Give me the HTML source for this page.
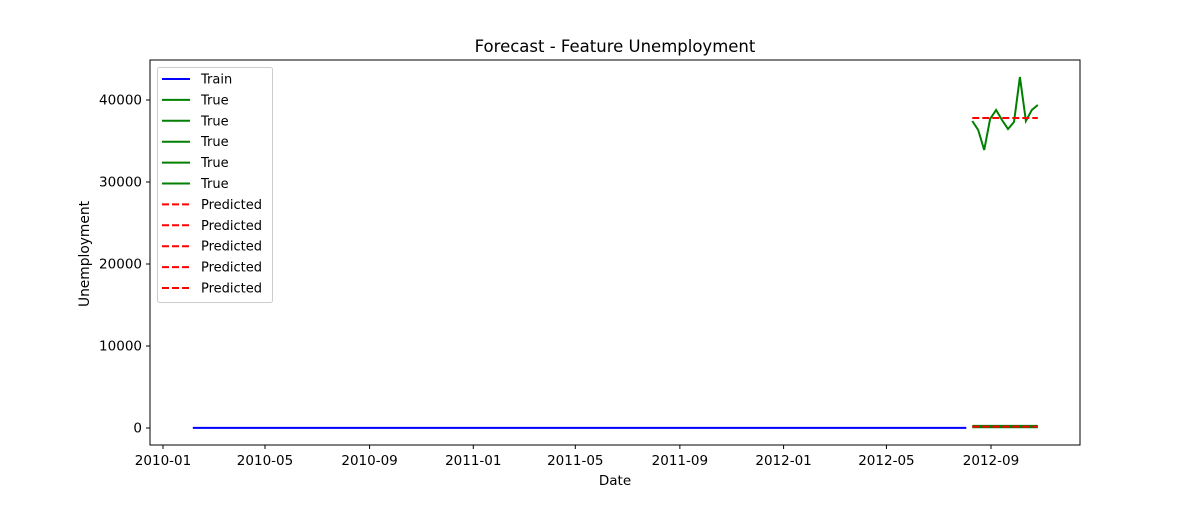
<!DOCTYPE html>
<html><head><meta charset="utf-8"><style>
body{margin:0;background:#fff;}
svg text{font-family:"DejaVu Sans","Liberation Sans",sans-serif;fill:#000;}
</style></head><body>
<svg id="chart" width="1200" height="500" xmlns="http://www.w3.org/2000/svg">
<rect width="1200" height="500" fill="#fff"/>
<g id="plot"></g>
<text x="615" y="52" font-size="16.5" text-anchor="middle">Forecast - Feature Unemployment</text>
<text x="615" y="485" font-size="13.5" text-anchor="middle">Date</text>
<text transform="translate(89,254) rotate(-90)" font-size="13.8" text-anchor="middle">Unemployment</text>
<g id="legend"></g>
</svg>
<script>
const yTicks=[0,10000,20000,30000,40000];
const xTickLabels=["2010-01","2010-05","2010-09","2011-01","2011-05","2011-09","2012-01","2012-05","2012-09"];
const trainStart="2010-02-05", trainEnd="2012-08-03";
const trainValue=8;
const testDates=["2012-08-10","2012-08-17","2012-08-24","2012-08-31","2012-09-07","2012-09-14","2012-09-21","2012-09-28","2012-10-05","2012-10-12","2012-10-19","2012-10-26"];
const trueMain=[37440,36340,33900,37680,38780,37560,36460,37320,42800,37440,38780,39390];
const trueLow1=[100,100,100,100,100,100,100,100,100,100,100,100];
const trueLow2=[250,250,250,250,250,250,250,250,250,250,250,250];
const predMain=[37800,37800,37800,37800,37800,37800,37800,37800,37800,37800,37800,37800];
const predLow=[175,175,175,175,175,175,175,175,175,175,175,175];
const legendLabels=["Train","True","True","True","True","True","Predicted","Predicted","Predicted","Predicted","Predicted"];

const NS="http://www.w3.org/2000/svg";
const L=150,R=1080,T=60,B=445;
const d0=Date.parse("2010-01-01");
function xs(d){return 163+(Date.parse(d)-d0)/86400000*0.8501;}
function ys(v){return 428-v*0.0082;}
const plot=document.getElementById('plot');
function mk(tag,attrs,parent){const e=document.createElementNS(NS,tag);for(const k in attrs)e.setAttribute(k,attrs[k]);(parent||plot).appendChild(e);return e;}
function line(dates,vals,color,dash,name){
  const pts=dates.map((d,i)=>xs(d).toFixed(1)+","+ys(vals[i]).toFixed(1)).join(" ");
  const p=mk('polyline',{points:pts,fill:'none',stroke:color,'stroke-width':2});
  if(dash)p.setAttribute('stroke-dasharray','7,3');
  
  
}
line([trainStart,trainEnd],[trainValue,trainValue],'#0000ff',false,'train-line');
line(testDates,trueLow1,'#008000',false,'true-line-low-1');
line(testDates,trueLow2,'#008000',false,'true-line-low-2');
line(testDates,trueMain,'#008000',false,'true-line-main');
line(testDates.slice(0,12),predLow.map(v=>v),'#ff0000',true,'predicted-line-low');
line(testDates.slice(0,12),predMain,'#ff0000',true,'predicted-line-main');
const frame=mk('rect',{x:L,y:T,width:R-L,height:B-T,fill:'none',stroke:'#000','stroke-width':1});


yTicks.forEach(v=>{
  const y=ys(v);
  mk('line',{x1:L-4,x2:L,y1:y,y2:y,stroke:'#000'});
  const t=mk('text',{x:L-8,y:y+4.5,'font-size':13.5,'text-anchor':'end'});
  t.textContent=v;
  
  
});
xTickLabels.forEach(lbl=>{
  const x=xs(lbl+"-01");
  mk('line',{x1:x,x2:x,y1:B,y2:B+4,stroke:'#000'});
  const t=mk('text',{x:x,y:B+20,'font-size':13.5,'text-anchor':'middle'});
  t.textContent=lbl;
  
  
});
const lg=document.getElementById('legend');
mk('rect',{x:157.5,y:67.5,width:115,height:235,rx:2,fill:'#fff',stroke:'#ccc'},lg);
legendLabels.forEach((lbl,i)=>{
  const y=79+i*20.9;
  const c=lbl==="Train"?'#0000ff':lbl==="True"?'#008000':'#ff0000';
  const ln=mk('line',{x1:162,x2:190,y1:y,y2:y,stroke:c,'stroke-width':2},lg);
  if(lbl==="Predicted")ln.setAttribute('stroke-dasharray','7,3');
  const t=mk('text',{x:201,y:y+4.5,'font-size':13},lg);
  t.textContent=lbl;
  
  
});
</script>
</body></html>
